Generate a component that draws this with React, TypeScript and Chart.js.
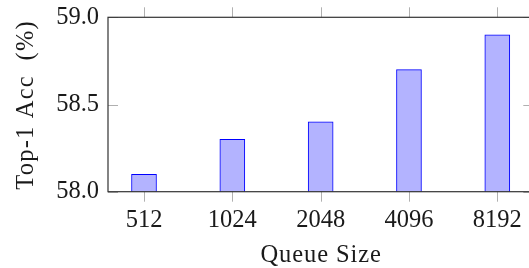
import React, { useEffect, useRef } from "react";
import { Chart, registerables } from "chart.js";

Chart.register(...registerables);

const categories = ["512", "1024", "2048", "4096", "8192"];
const accuracy = [58.1, 58.3, 58.4, 58.7, 58.9];
const yTicks = [58.0, 58.5, 59.0];
const xTitle = "Queue Size";
const yTitle = "Top-1 Acc  (%)";

const FONT = "'Liberation Serif', 'Times New Roman', serif";
const FONT_SIZE = 24.5;

const framePlugin = {
  id: "frame",
  afterDraw(chart: any) {
    const { ctx, chartArea } = chart;
    const { left, right, top, bottom } = chartArea;
    const xs = chart.scales.x;
    const ys = chart.scales.y;
    ctx.save();
    ctx.strokeStyle = "#b0b0b0";
    ctx.lineWidth = 1;
    ctx.beginPath();
    categories.forEach((_, i) => {
      const px = Math.round(xs.getPixelForValue(i)) + 0.5;
      ctx.moveTo(px, top);
      ctx.lineTo(px, top - 10);
      ctx.moveTo(px, bottom);
      ctx.lineTo(px, bottom + 10);
    });
    yTicks.forEach((v) => {
      const py = Math.round(ys.getPixelForValue(v)) + 0.5;
      ctx.moveTo(left, py);
      ctx.lineTo(left + 10, py);
      ctx.moveTo(right, py);
      ctx.lineTo(right - 10, py);
    });
    ctx.stroke();
    ctx.strokeStyle = "#333333";
    ctx.lineWidth = 1.2;
    ctx.strokeRect(left, top, right - left, bottom - top);

    // axis titles
    ctx.fillStyle = "#1a1a1a";
    ctx.font = `${FONT_SIZE}px ${FONT}`;
    ctx.textAlign = "center";
    ctx.textBaseline = "alphabetic";
    const lsX = 0.9;
    (ctx as any).letterSpacing = `${lsX}px`;
    ctx.fillText(xTitle, (left + right) / 2 + lsX / 2, bottom + 70.5);
    const lsY = 1.2;
    (ctx as any).letterSpacing = `${lsY}px`;
    ctx.translate(33, (top + bottom) / 2 + 1);
    ctx.rotate(-Math.PI / 2);
    ctx.fillText(yTitle, lsY / 2, 0);
    ctx.restore();
  },
};

export default function App() {
  const ref = useRef<HTMLCanvasElement | null>(null);
  useEffect(() => {
    if (!ref.current) return;
    const chart = new Chart(ref.current, {
      type: "bar",
      data: {
        datasets: [
          {
            data: categories.map((_, i) => ({ x: i, y: accuracy[i] })),
            backgroundColor: "#b3b3ff",
            borderColor: "#0000ff",
            borderWidth: 1,
            barThickness: 25,
          },
        ],
      },
      options: {
        animation: false,
        responsive: false,
        devicePixelRatio: 1,
        layout: { padding: { left: 0, top: 17.3, right: 11.7, bottom: 0 } },
        plugins: { legend: { display: false }, tooltip: { enabled: false } },
        scales: {
          x: {
            type: "linear",
            offset: false,
            min: -0.4077,
            max: 4.4077,
            afterBuildTicks: (s: any) => {
              s.ticks = categories.map((_, i) => ({ value: i }));
            },
            afterFit: (s: any) => {
              s.height = 76.3;
              s.paddingLeft = 0;
              s.paddingRight = 0;
            },
            grid: { display: false, drawTicks: false, offset: false },
            border: { display: false },
            ticks: {
              padding: 14,
              color: "#1a1a1a",
              font: { family: FONT, size: FONT_SIZE },
              maxRotation: 0,
              autoSkip: false,
              callback: (v: any) => categories[Math.round(Number(v))] ?? "",
            },
          },
          y: {
            type: "linear",
            min: 58,
            max: 59,
            afterBuildTicks: (s: any) => {
              s.ticks = yTicks.map((v) => ({ value: v }));
            },
            afterFit: (s: any) => {
              s.width = 108;
              s.paddingTop = 0;
              s.paddingBottom = 0;
            },
            grid: { display: false, drawTicks: false },
            border: { display: false },
            ticks: {
              padding: 9,
              color: "#1a1a1a",
              font: { family: FONT, size: FONT_SIZE },
              callback: (v: any) => Number(v).toFixed(1),
            },
          },
        },
      },
      plugins: [framePlugin],
    });
    return () => chart.destroy();
  }, []);
  return (
    <div
      style={{
        position: "fixed",
        left: 0,
        top: 0,
        width: 529,
        height: 268,
        overflow: "hidden",
        background: "#fff",
      }}
    >
      <canvas ref={ref} width={545} height={268} style={{ width: 545, height: 268, display: "block" }} />
    </div>
  );
}
